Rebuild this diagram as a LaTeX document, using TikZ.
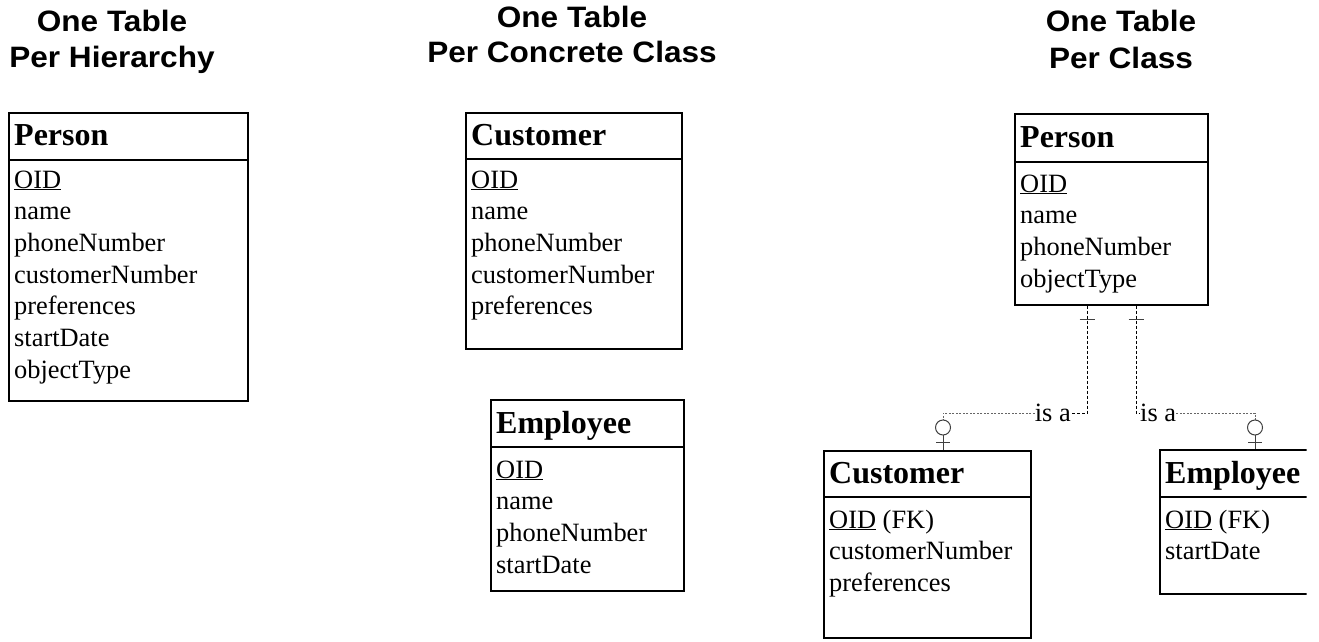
\documentclass[tikz,border=0pt]{standalone}
\usepackage{fontspec}
\setmainfont{Liberation Serif}
\newfontfamily\headfont[FakeStretch=1.07]{Liberation Sans}
\begin{document}
\begin{tikzpicture}[x=1pt,y=-1pt,
  tbl/.style={draw, line width=1.5pt, inner sep=0pt, anchor=north west},
  sepline/.style={line width=1.5pt},
  title/.style={anchor=base, inner sep=0pt, font=\headfont\bfseries\fontsize{29.5}{35}\selectfont},
  hdr/.style={anchor=base west, inner sep=0pt, font=\bfseries\fontsize{32}{38}\selectfont},
  attr/.style={anchor=base west, inner sep=0pt, font=\fontsize{26.4}{32}\selectfont},
  rel/.style={line width=0.9pt, black, dash pattern=on 3pt off 2pt},
  relh/.style={line width=0.9pt, black!60, dash pattern=on 2pt off 1.5pt},
  cardmark/.style={line width=1pt, black!75},
]
\useasboundingbox (0,0) rectangle (1319,642);

% ---------- headings ----------
\node[title] (t1a) at (112,32) {One Table};
\node[title] (t1b) at (112,67) {Per Hierarchy};
\node[title] (t2a) at (572,28) {One Table};
\node[title] (t2b) at (572,63) {Per Concrete Class};
\node[title] (t3a) at (1121,32) {One Table};
\node[title] (t3b) at (1121,68) {Per Class};

% ---------- one table per hierarchy ----------
\node[tbl, minimum width=239pt, minimum height=288pt] (pA) at (8,112) {};
\draw[sepline] (pA.west |- 0,160) -- (pA.east |- 0,160);
\node[hdr]  (pAh) at (14,145) {Person};
\node[attr] (pA1) at (14,188)   {\underline{OID}};
\node[attr] (pA2) at (14,219.7) {name};
\node[attr] (pA3) at (14,251.4) {phoneNumber};
\node[attr] (pA4) at (14,283.1) {customerNumber};
\node[attr] (pA5) at (14,314.8) {preferences};
\node[attr] (pA6) at (14,346.5) {startDate};
\node[attr] (pA7) at (14,378.2) {objectType};

% ---------- one table per concrete class ----------
\node[tbl, minimum width=216pt, minimum height=236pt] (cB) at (465,112) {};
\draw[sepline] (cB.west |- 0,159) -- (cB.east |- 0,159);
\node[hdr]  (cBh) at (471,145) {Customer};
\node[attr] (cB1) at (471,188)   {\underline{OID}};
\node[attr] (cB2) at (471,219.7) {name};
\node[attr] (cB3) at (471,251.4) {phoneNumber};
\node[attr] (cB4) at (471,283.1) {customerNumber};
\node[attr] (cB5) at (471,314.8) {preferences};

\node[tbl, minimum width=193pt, minimum height=191pt] (eC) at (490,399) {};
\draw[sepline] (eC.west |- 0,447) -- (eC.east |- 0,447);
\node[hdr]  (eCh) at (496,433) {Employee};
\node[attr] (eC1) at (496,478)   {\underline{OID}};
\node[attr] (eC2) at (496,509.7) {name};
\node[attr] (eC3) at (496,541.4) {phoneNumber};
\node[attr] (eC4) at (496,573.1) {startDate};

% ---------- one table per class ----------
\node[tbl, minimum width=193pt, minimum height=191pt] (pD) at (1014,113) {};
\draw[sepline] (pD.west |- 0,162) -- (pD.east |- 0,162);
\node[hdr]  (pDh) at (1020,147) {Person};
\node[attr] (pD1) at (1020,192)   {\underline{OID}};
\node[attr] (pD2) at (1020,223.7) {name};
\node[attr] (pD3) at (1020,255.4) {phoneNumber};
\node[attr] (pD4) at (1020,287.1) {objectType};

\node[tbl, minimum width=207pt, minimum height=187pt] (cE) at (823,450) {};
\draw[sepline] (cE.west |- 0,497) -- (cE.east |- 0,497);
\node[hdr]  (cEh) at (829,483) {Customer};
\node[attr] (cE1) at (829,528)   {\underline{OID} (FK)};
\node[attr] (cE2) at (829,559.7) {customerNumber};
\node[attr] (cE3) at (829,591.4) {preferences};

\begin{scope}
  \clip (0,0) rectangle (1306.5,642);
  \node[tbl, minimum width=170pt, minimum height=144pt] (eF) at (1159,449) {};
  \draw[sepline] (eF.west |- 0,497) -- (eF.east |- 0,497);
\end{scope}
\node[hdr]  (eFh) at (1165,483) {Employee};
\node[attr] (eF1) at (1165,528)   {\underline{OID} (FK)};
\node[attr] (eF2) at (1165,559.7) {startDate};

% ---------- "is a" relationships ----------
\node[attr, anchor=base east] (isaL) at (1071,421) {is a};
\node[attr] (isaR) at (1140,421) {is a};

\coordinate (kL) at (1087,413);
\coordinate (kR) at (1136,413);
\coordinate (dL) at (943,413);
\coordinate (dR) at (1255,413);

\draw[rel]  (pD.south -| kL) -- (kL) -- (isaL.east |- kL);
\draw[relh] (isaL.west |- kL) -- (dL) -- ++(0,7);
\draw[rel]  (pD.south -| kR) -- (kR) -- (isaR.west |- kR);
\draw[relh] (isaR.east |- kR) -- (dR) -- ++(0,7);

% cardinality marks at the parent
\draw[cardmark] (1079.5,319) -- (1094.5,319);
\draw[cardmark] (1128.5,319) -- (1143.5,319);

% zero-or-one marks at the children
\draw[cardmark] (943,427.5) circle (7.5);
\draw[cardmark] (943,435) -- (cE.north -| dL);
\draw[cardmark] (936,442) -- (950,442);
\draw[cardmark] (1255,427.5) circle (7.5);
\draw[cardmark] (1255,435) -- (eF.north -| dR);
\draw[cardmark] (1248,442) -- (1262,442);
\end{tikzpicture}
\end{document}
